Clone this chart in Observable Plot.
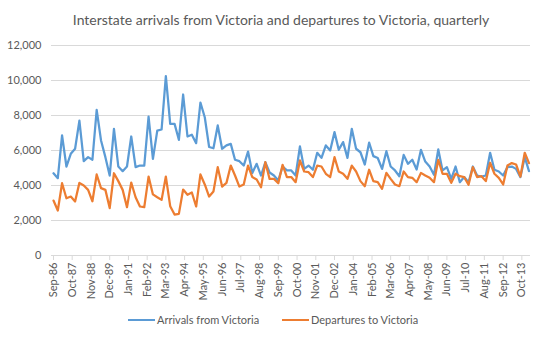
<!DOCTYPE html>
<html>
<head>
<meta charset="utf-8">
<script src="https://cdn.jsdelivr.net/npm/d3@7"></script>
<script src="https://cdn.jsdelivr.net/npm/@observablehq/plot@0.6"></script>
<style>
  html, body { margin: 0; padding: 0; background: #fff; }
  body { width: 544px; height: 340px; position: relative; overflow: hidden; font-family: Lato, "Open Sans", sans-serif; color: #595959; }
  #title { height: 36px; box-sizing: border-box; padding-top: 12px; line-height: 16px; font-size: 14px; text-align: center; padding-left: 18px; }
  .leg { position: absolute; top: 312px; font-size: 11px; line-height: 16px; display: flex; align-items: center; }
  .leg span.sw { display: inline-block; width: 27px; height: 2.25px; margin-right: 2px; }
</style>
</head>
<body>
<div id="title">Interstate arrivals from Victoria and departures to Victoria, quarterly</div>
<div id="chart"></div>
<div class="leg" style="left:128px"><span class="sw" style="background:#5B9BD5"></span>Arrivals from Victoria</div>
<div class="leg" style="left:282px"><span class="sw" style="background:#ED7D31"></span>Departures to Victoria</div>
<script>
// Quarterly series, Sep-86 to Mar-14
const arrivals = [
  4700, 4420, 6860, 5085, 5810, 6100, 7710, 5390, 5620, 5470,
  8320, 6570, 5620, 4570, 7240, 5085, 4820, 5085, 6800, 5050,
  5140, 5140, 7940, 5520, 7140, 7200, 10250, 7520, 7520, 6610,
  9200, 6800, 6900, 6420, 8740, 7900, 6200, 6130, 7430, 6100,
  6290, 6380, 5470, 5390, 5140, 5940, 4720, 5240, 4570, 5330,
  4740, 4570, 4290, 5085, 4860, 4860, 4570, 6230, 4950, 5140,
  4900, 5870, 5580, 6290, 6000, 7050, 6040, 6480, 5580, 7240,
  6100, 5900, 5200, 6450, 5680, 5570, 4950, 5960, 5085, 4860,
  4530, 5750, 5240, 5470, 4910, 6040, 5370, 5085, 4610, 6060,
  4860, 5050, 4380, 5085, 4190, 4480, 4190, 5085, 4570, 4510,
  4570, 5870, 4900, 4800, 4570, 5050, 5085, 4950, 4480, 5620,
  4820
];
const departures = [
  3140, 2570, 4130, 3270, 3370, 3085, 4150, 4000, 3750, 3100,
  4630, 3850, 3750, 2710, 4700, 4250, 3750, 2760, 4170, 3330,
  2800, 2760, 4510, 3490, 3330, 3180, 4510, 2820, 2340, 2380,
  3770, 3470, 3600, 2800, 4630, 4060, 3370, 3660, 5050, 3940,
  4150, 5140, 4570, 3940, 4060, 5140, 4480, 4340, 3900, 5330,
  4380, 4380, 4130, 5180, 4480, 4480, 4190, 5430, 4800, 4760,
  4480, 5140, 5085, 4670, 4480, 5620, 4800, 4670, 4380, 5140,
  4800, 4250, 3960, 4900, 4250, 4190, 3810, 4720, 4380, 4060,
  3960, 4800, 4480, 4440, 4190, 4720, 4570, 4440, 4190, 5470,
  4670, 4670, 4150, 4670, 4530, 4480, 4040, 5050, 4480, 4530,
  4250, 5300, 4670, 4440, 4060, 5140, 5280, 5200, 4510, 5870,
  5280
];
const firstQuarter = new Date(Date.UTC(1986, 8, 1)); // Sep-86
const yTicks = [0, 2000, 4000, 6000, 8000, 10000, 12000];
const xTickStepMonths = 13;
const xTickCount = 26; // Sep-86 ... Oct-13

const dates = arrivals.map((_, i) => d3.utcMonth.offset(firstQuarter, 3 * i));
const rows = dates.map((date, i) => ({date, arr: arrivals[i], dep: departures[i]}));
const xTicks = d3.range(xTickCount).map(k => d3.utcMonth.offset(firstQuarter, xTickStepMonths * k));

const chart = Plot.plot({
  width: 544,
  height: 268,
  marginTop: 9,
  marginBottom: 49,
  marginLeft: 51,
  marginRight: 14,
  style: {fontFamily: "Lato, 'Open Sans', sans-serif", fontSize: "11px", color: "#595959", background: "#fff"},
  x: {type: "utc", domain: [dates[0], dates[dates.length - 1]], insetLeft: 2, insetRight: 1.5},
  y: {domain: [0, 12000]},
  marks: [
    Plot.ruleY(yTicks, {stroke: "#d9d9d9", strokeWidth: 1}),
    Plot.axisY({ticks: yTicks, tickSize: 0, tickPadding: 10, tickFormat: d3.format(","), fill: "#595959", label: null}),
    Plot.axisX({ticks: xTicks, tickFormat: d3.utcFormat("%b-%y"), tickRotate: -90, tickSize: 5, tickPadding: 2, stroke: "#d9d9d9", fill: "#595959", label: null}),
    Plot.line(rows, {x: "date", y: "arr", stroke: "#5B9BD5", strokeWidth: 2.25}),
    Plot.line(rows, {x: "date", y: "dep", stroke: "#ED7D31", strokeWidth: 2.25})
  ]
});
document.getElementById("chart").appendChild(chart);
</script>
</body>
</html>
